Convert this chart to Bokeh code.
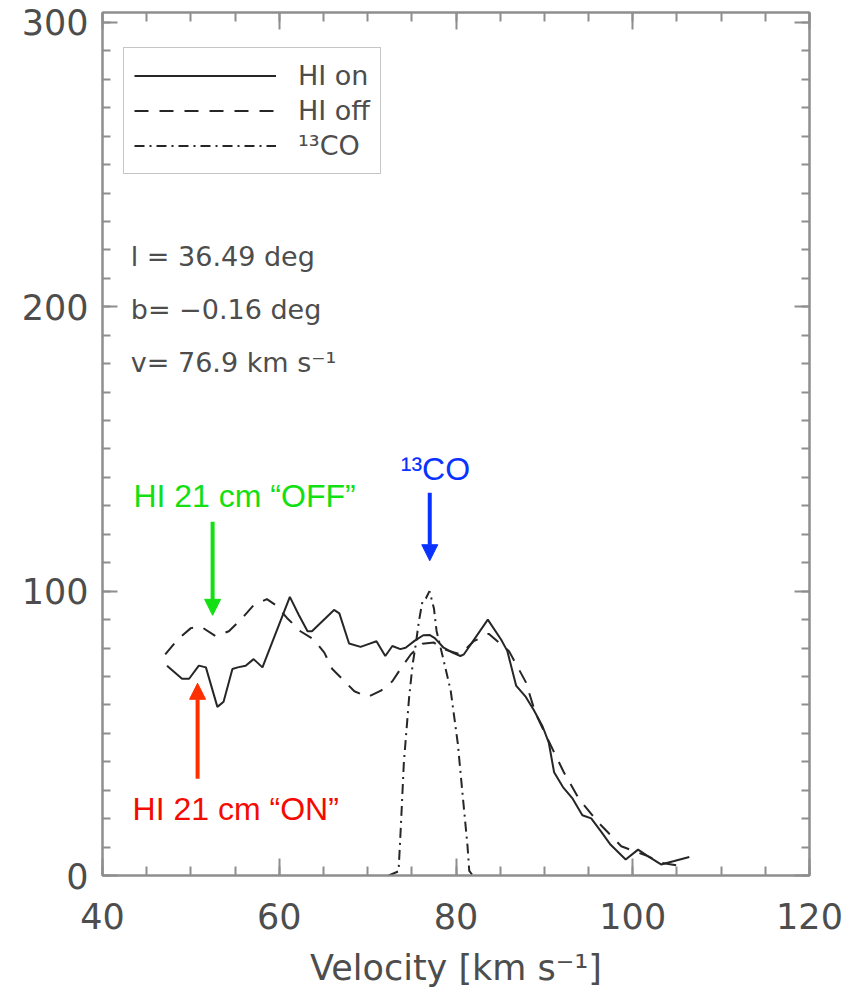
import numpy as np
from bokeh.plotting import figure
from bokeh.models import (Range1d, LinearAxis, Legend, LegendItem, Label,
                          Arrow, NormalHead, FixedTicker, CustomLabelingPolicy)
from bokeh.embed import file_html
from bokeh.resources import INLINE

# ---------------- data ----------------
on_v = [47.3, 49.0, 49.8, 50.9, 51.7, 53.0, 53.7, 54.7, 55.3, 56.2, 57.1, 58.1,
        61.2, 62.2, 63.2, 63.7, 66.2, 66.8, 67.9, 69.2, 70.0, 71.0, 72.0, 72.8,
        73.7, 74.3, 75.3, 76.3, 77.0, 77.6, 78.6, 79.6, 80.5, 80.9, 83.6, 85.1,
        85.8, 86.8, 87.9, 88.8, 89.8, 90.5, 91.1, 92.1, 93.2, 94.3, 95.3, 96.4,
        97.5, 99.2, 100.6, 101.7, 103.2, 104.7, 106.4]
on_t = [73.8, 69.2, 69.2, 73.8, 73.2, 59.3, 61.1, 72.6, 73.2, 73.8, 76.1, 73.2,
        98.0, 91.7, 85.9, 85.9, 93.4, 92.2, 81.6, 80.4, 81.3, 82.4, 77.2, 80.7,
        79.6, 80.1, 82.5, 84.5, 84.6, 83.5, 80.1, 78.4, 77.2, 77.8, 90.0, 83.0,
        79.0, 66.8, 62.8, 58.2, 52.4, 46.7, 36.3, 31.1, 27.0, 21.2, 20.1, 15.5,
        10.8, 5.6, 9.1, 6.8, 3.9, 5.1, 6.5]

off_v = [47.1, 48.5, 50.0, 51.1, 52.8, 54.3, 55.8, 57.1, 58.6, 59.6, 60.9, 62.4,
         63.9, 65.1, 66.0, 67.1, 68.5, 70.0, 71.5, 72.8, 73.9, 74.9, 76.2, 77.5,
         78.6, 79.8, 80.5, 82.0, 83.7, 86.0, 87.9, 89.0, 90.5, 92.2, 93.9, 96.0,
         98.7, 100.2, 101.7, 103.2, 105.3]
off_t = [77.8, 83.0, 87.0, 87.6, 84.2, 85.9, 90.5, 95.1, 97.2, 95.1, 90.5, 85.9,
         83.0, 78.4, 72.6, 69.2, 64.8, 62.8, 65.0, 68.3, 73.5, 77.8, 81.5, 81.9,
         79.6, 78.4, 77.8, 82.4, 85.0, 78.9, 68.0, 57.0, 47.2, 36.3, 27.0, 19.0,
         10.3, 8.5, 6.8, 4.5, 3.4]

co_v = [72.4, 73.5, 73.75, 74.1, 74.7, 75.1, 75.45, 75.8, 76.2, 76.6, 77.0, 77.5,
        77.8, 78.65, 79.4, 80.2, 80.7, 81.3, 81.5, 81.9]
co_t = [0.0, 1.5, 16.6, 39.7, 62.8, 74.4, 81.3, 89.4, 96.3, 97.5, 100.0, 94.0,
        86.0, 75.0, 65.0, 46.5, 30.0, 10.5, 1.6, 0.0]

x_ticks = [40, 60, 80, 100, 120]
y_ticks = [0, 100, 200, 300]
series_names = ["HI on", "HI off", "¹³CO"]
info_lines = ["l = 36.49 deg", "b= −0.16 deg", "v= 76.9 km s⁻¹"]
x_title = "Velocity [km s⁻¹]"

# ---------------- style ----------------
GREY = "#8e8e8e"
TXT = "#4d4d4d"
CURVE = "#262626"
FONT = "DejaVu Sans"
AFONT = "Liberation Sans"

p = figure(width=850, height=990,
           x_range=Range1d(40, 120), y_range=Range1d(0, 303.5),
           output_backend="svg", toolbar_location=None,
           min_border_left=102, min_border_right=41,
           min_border_top=12, min_border_bottom=112)
p.xgrid.visible = False
p.ygrid.visible = False
p.outline_line_color = GREY
p.outline_line_width = 2
p.background_fill_color = "white"
p.border_fill_color = "white"

x_minor = [float(v) for v in np.arange(40, 121, 5)]
y_minor = [float(v) for v in np.arange(0, 301, 10)]

no_labels = CustomLabelingPolicy(code="""
    for (const i of indices) { indices.unset(i) }
    return indices
""")


def style_axis(ax, ticks, minor, major_len, minor_len, labels=True):
    ax.ticker = FixedTicker(ticks=ticks, minor_ticks=minor)
    ax.axis_line_color = GREY
    ax.axis_line_width = 2
    ax.major_tick_line_color = GREY
    ax.major_tick_line_width = 2
    ax.minor_tick_line_color = GREY
    ax.minor_tick_line_width = 2
    ax.major_tick_in = major_len
    ax.major_tick_out = 0
    ax.minor_tick_in = minor_len
    ax.minor_tick_out = 0
    if labels:
        ax.major_label_text_font = FONT
        ax.major_label_text_font_size = "35px"
        ax.major_label_text_color = TXT
    else:
        ax.major_label_policy = no_labels
        ax.major_label_standoff = 0


xa = p.xaxis[0]
style_axis(xa, x_ticks, x_minor, 17, 9)
xa.major_label_standoff = 27
xa.axis_label = x_title
xa.axis_label_text_font = FONT
xa.axis_label_text_font_size = "35px"
xa.axis_label_text_font_style = "normal"
xa.axis_label_text_color = TXT
xa.axis_label_standoff = 16

ya = p.yaxis[0]
style_axis(ya, y_ticks, y_minor, 15, 8)
ya.major_label_standoff = 14

top = LinearAxis()
style_axis(top, x_ticks, x_minor, 17, 9, labels=False)
p.add_layout(top, "above")
right = LinearAxis()
style_axis(right, y_ticks, y_minor, 15, 8, labels=False)
p.add_layout(right, "right")

# ---------------- curves ----------------
r_on = p.line(on_v, on_t, line_color=CURVE, line_width=2)
r_off = p.line(off_v, off_t, line_color=CURVE, line_width=2, line_dash="14 11")
r_co = p.line(co_v, co_t, line_color=CURVE, line_width=2, line_dash="10 5 2 5")

legend = Legend(items=[LegendItem(label=series_names[0], renderers=[r_on]),
                       LegendItem(label=series_names[1], renderers=[r_off]),
                       LegendItem(label=series_names[2], renderers=[r_co])],
                location=(21, 701), padding=10, spacing=0, margin=0,
                label_height=35, glyph_height=35, glyph_width=142,
                label_standoff=22, label_text_font=FONT,
                label_text_font_size="27px", label_text_color=TXT,
                border_line_color=GREY, border_line_width=1.5,
                background_fill_color="white", background_fill_alpha=1)
p.add_layout(legend)

# ---------------- info text ----------------
for txt, yy in zip(info_lines, [217.6, 199.1, 180.5]):
    p.add_layout(Label(x=43.2, y=yy, text=txt, text_baseline="middle",
                       text_font=FONT, text_font_size="27px", text_color=TXT))

# ---------------- coloured annotations ----------------
GREEN = "#12e012"
RED = "#f50a00"
RED_ARROW = "#ff3000"
BLUE = "#0a32ff"

p.add_layout(Label(x=43.5, y=133.5, text="HI 21 cm “OFF”", text_baseline="middle",
                   text_font=AFONT, text_font_size="32px", text_color=GREEN))
p.add_layout(Label(x=43.4, y=23.3, text="HI 21 cm “ON”", text_baseline="middle",
                   text_font=AFONT, text_font_size="32px", text_color=RED))
p.add_layout(Label(x=73.75, y=143.0, text="¹³CO", text_baseline="middle",
                   text_font=AFONT, text_font_size="32px", text_color=BLUE))

p.add_layout(Arrow(end=NormalHead(size=16, fill_color=GREEN, line_color=GREEN),
                   x_start=52.46, y_start=124.4, x_end=52.46, y_end=91.5,
                   line_color=GREEN, line_width=4))
p.add_layout(Arrow(end=NormalHead(size=16, fill_color=RED_ARROW, line_color=RED_ARROW),
                   x_start=50.76, y_start=34.0, x_end=50.76, y_end=67.6,
                   line_color=RED_ARROW, line_width=4))
p.add_layout(Arrow(end=NormalHead(size=16, fill_color=BLUE, line_color=BLUE),
                   x_start=77.03, y_start=134.6, x_end=77.03, y_end=110.7,
                   line_color=BLUE, line_width=4))

open("out.html", "w").write(file_html(p, INLINE))
